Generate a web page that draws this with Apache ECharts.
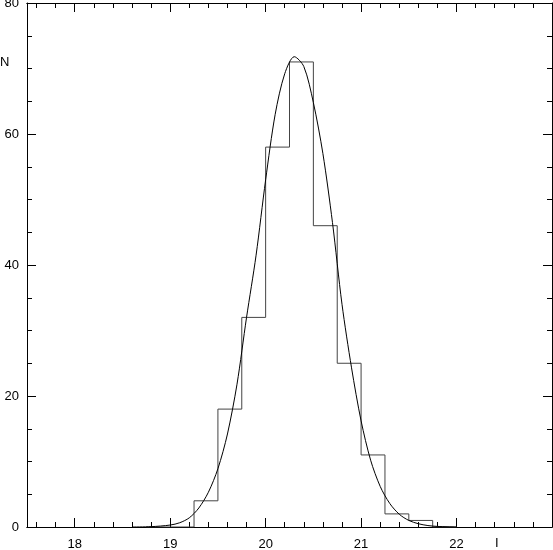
<!DOCTYPE html>
<html>
<head>
<meta charset="utf-8">
<title>Histogram N vs I</title>
<script src="https://cdn.jsdelivr.net/npm/echarts@6/dist/echarts.min.js"></script>
<style>
    html, body { margin: 0; padding: 0; background: #fff; }
    #chart { width: 553px; height: 550px; }
</style>
</head>
<body>
<div id="chart"></div>
<script>
    // histogram: bin edges (width 0.25) and counts per bin
    const binEdges = [18.75, 19.0, 19.25, 19.5, 19.75, 20.0, 20.25, 20.5, 20.75, 21.0, 21.25, 21.5, 21.75, 22.0];
    const binCounts = [0, 0, 4, 18, 32, 58, 71, 46, 25, 11, 2, 1, 0];

    // fitted curve
    const curveX = [18.6, 18.8, 19.0, 19.1, 19.2, 19.3, 19.4, 19.5, 19.6, 19.7, 19.8, 19.9, 20.0, 20.1, 20.2, 20.3,
        20.4, 20.5, 20.6, 20.7, 20.8, 20.9, 21.0, 21.1, 21.2, 21.3, 21.4, 21.5, 21.6, 21.7, 21.8, 22.0];
    const curveY = [0, 0.05, 0.3, 0.65, 1.4, 2.9, 5.3, 8.9, 14.2, 21.8, 32, 41.5, 53, 63, 69.2, 71.8,
        70.3, 64.8, 57, 46.5, 34, 24.3, 16.2, 10.2, 6.2, 3.6, 1.95, 1.0, 0.5, 0.22, 0.09, 0];

    // axes
    const xRange = [17.5, 23];
    const xMajorTicks = [18, 19, 20, 21, 22];
    const xMinorTicks = [17.6, 17.8, 18.2, 18.4, 18.6, 18.8, 19.2, 19.4, 19.6, 19.8, 20.2, 20.4, 20.6, 20.8,
        21.2, 21.4, 21.6, 21.8, 22.2, 22.4, 22.6, 22.8];
    const yRange = [0, 80];
    const yStep = 20;

    let myChart = echarts.init(document.getElementById('chart'));

    const font = 'Liberation Sans, Arial, Helvetica, sans-serif';
    const lineBlack = {show: true, lineStyle: {color: '#000', width: 1}};

    function xAxisDef(position, ticks, len, labels) {
        return {
            type: 'value',
            position: position,
            min: xRange[0],
            max: xRange[1],
            axisLine: lineBlack,
            axisTick: {show: true, inside: true, length: len, customValues: ticks, lineStyle: {color: '#000'}},
            axisLabel: labels ? {
                show: true, customValues: xMajorTicks, margin: 11,
                color: '#000', fontSize: 13, fontFamily: font
            } : {show: false},
            splitLine: {show: false}
        };
    }

    function yAxisDef(position, labels) {
        return {
            type: 'value',
            position: position,
            min: yRange[0],
            max: yRange[1],
            interval: yStep,
            axisLine: lineBlack,
            axisTick: {show: true, inside: true, length: 9, lineStyle: {color: '#000'}},
            minorTick: {show: true, splitNumber: 4, length: 5, lineStyle: {color: '#000'}},
            axisLabel: labels ? {show: true, margin: 8, color: '#000', fontSize: 13, fontFamily: font} : {show: false},
            splitLine: {show: false},
            minorSplitLine: {show: false}
        };
    }

    // step outline of the histogram
    const histData = binEdges.map((x, i) => [x, i < binCounts.length ? binCounts[i] : 0]);
    const curveData = curveX.map((x, i) => [x, curveY[i]]);

    let option = {
        animation: false,
        backgroundColor: '#fff',
        title: [
            {text: 'N', left: 0, top: 56, textStyle: {fontSize: 13, fontWeight: 'normal', color: '#000', fontFamily: font}, padding: 0},
            {text: 'I', left: 495, top: 537, textStyle: {fontSize: 13, fontWeight: 'normal', color: '#000', fontFamily: font}, padding: 0}
        ],
        grid: {left: 27, right: 1, top: 3, bottom: 23, outerBoundsMode: 'none'},
        xAxis: [
            xAxisDef('bottom', xMajorTicks, 9, true),
            xAxisDef('bottom', xMinorTicks, 5, false),
            xAxisDef('top', xMajorTicks, 9, false),
            xAxisDef('top', xMinorTicks, 5, false)
        ],
        yAxis: [
            yAxisDef('left', true),
            yAxisDef('right', false)
        ],
        series: [
            {
                name: 'histogram',
                type: 'line',
                step: 'end',
                xAxisIndex: 0,
                yAxisIndex: 0,
                symbol: 'none',
                lineStyle: {color: '#444', width: 1},
                data: histData
            },
            {
                name: 'fit',
                type: 'line',
                smooth: 0.3,
                xAxisIndex: 0,
                yAxisIndex: 0,
                symbol: 'none',
                lineStyle: {color: '#000', width: 1},
                data: curveData
            }
        ]
    };

    myChart.setOption(option);
</script>
</body>
</html>
